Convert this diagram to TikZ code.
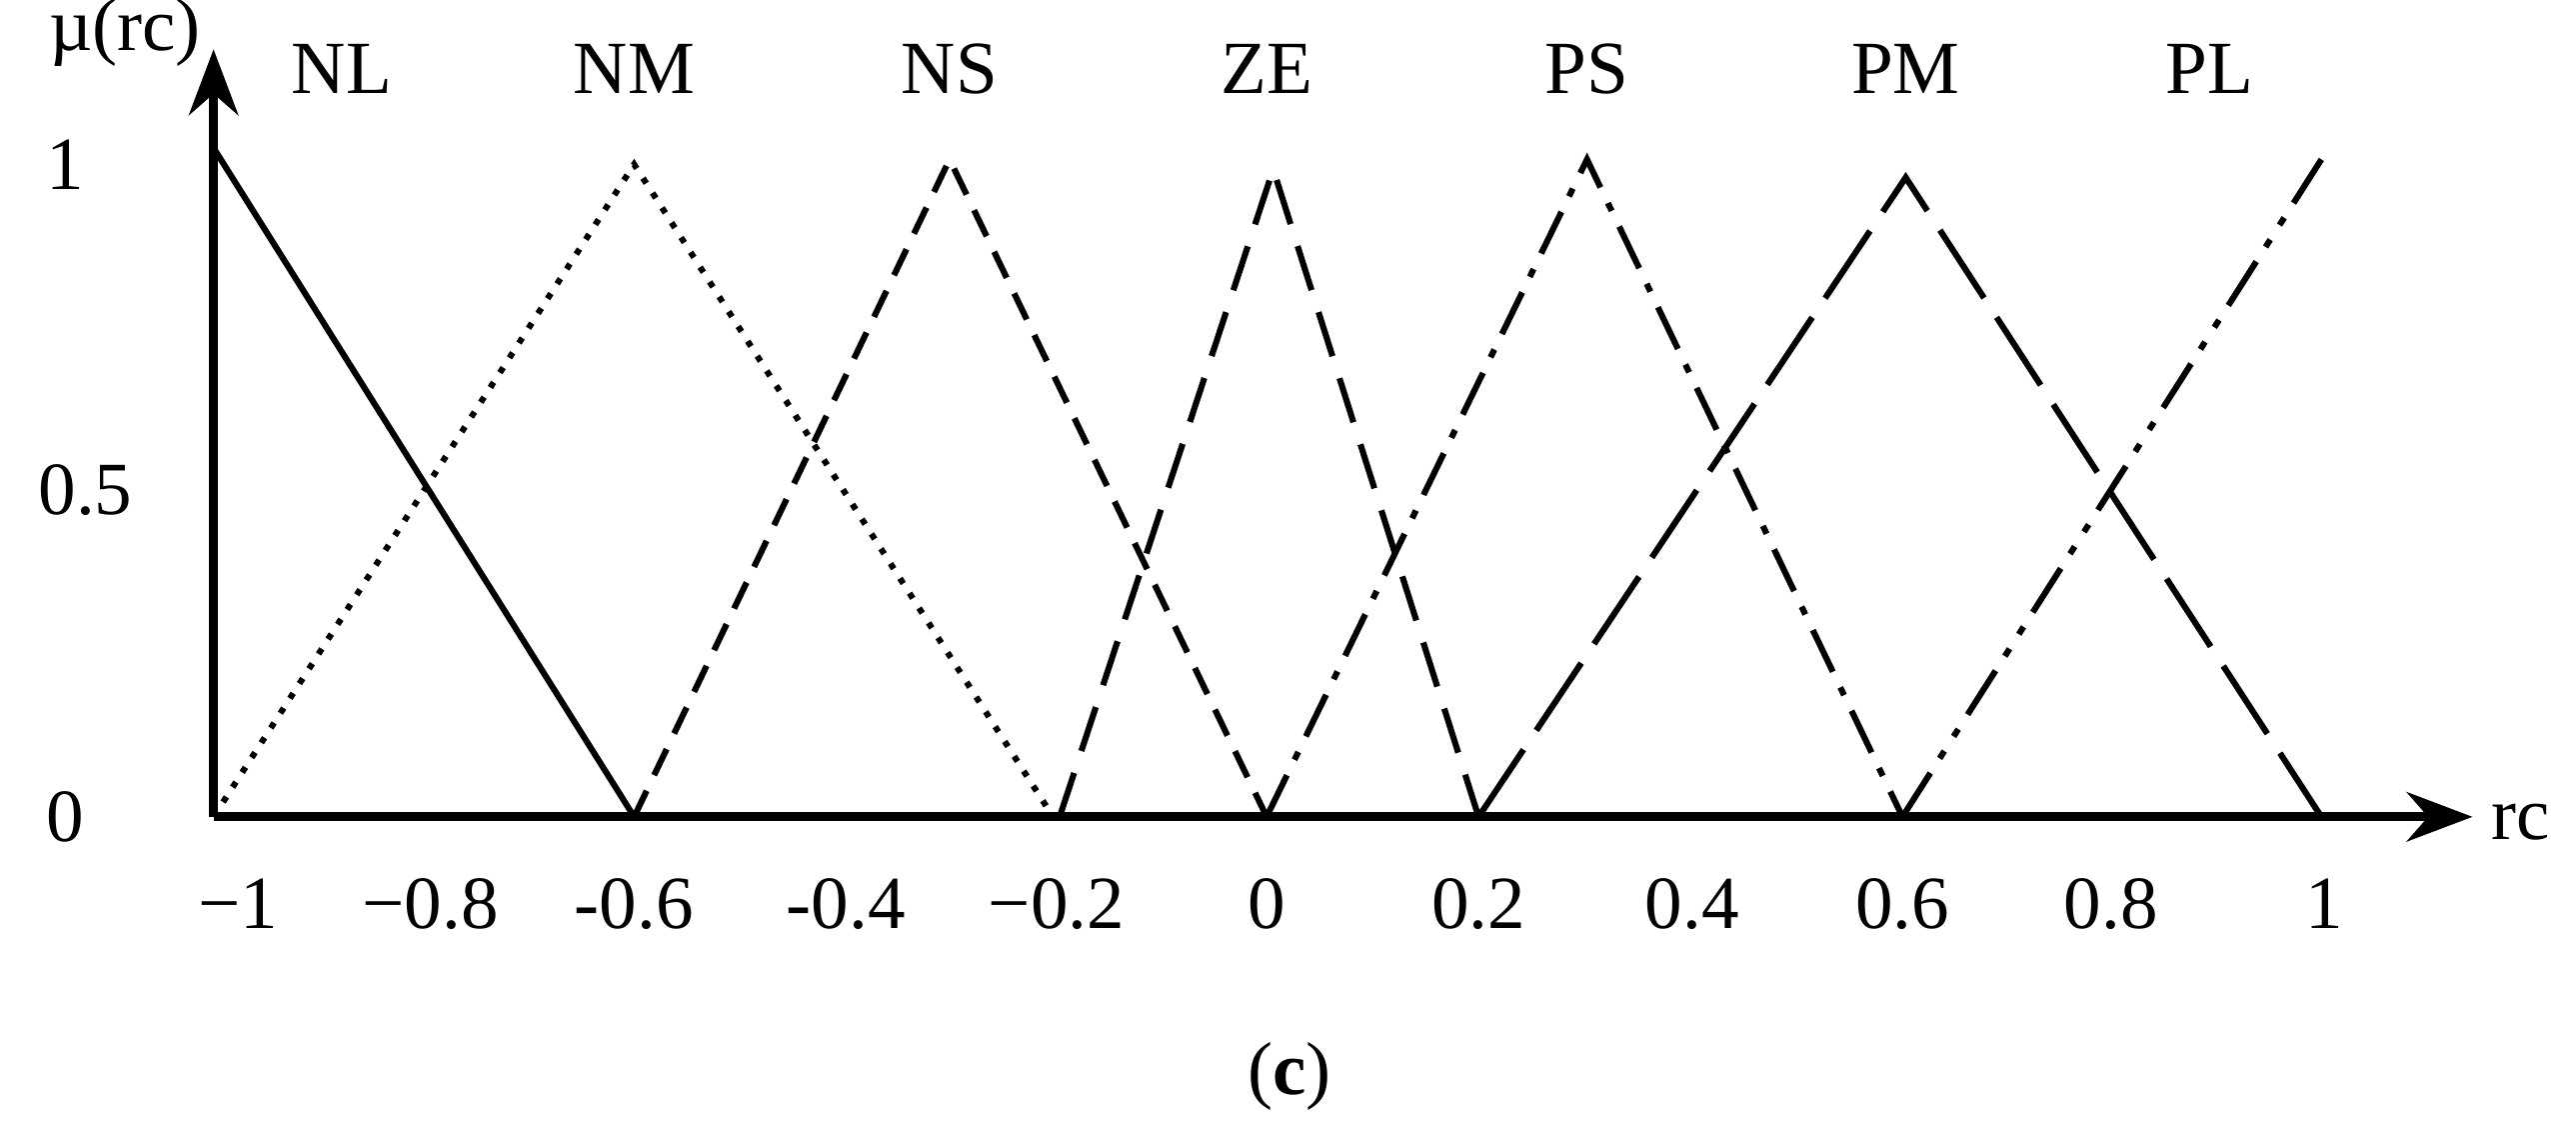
\documentclass[tikz,border=0pt]{standalone}
\usepackage{fontspec}
\setmainfont{Liberation Serif}
\usetikzlibrary{arrows.meta}
\begin{document}
\begin{tikzpicture}[x=0.1mm,y=-0.1mm,
  lbl/.style={font=\fontsize{13pt}{15pt}\selectfont,inner sep=0pt},
  mf/.style={line width=1.05pt},
  ax/.style={line width=1.5pt,-{Stealth[length=4mm,width=3mm]}}]
\useasboundingbox (0,0) rectangle (1568,689);
% axes
\coordinate (O) at (130,497);
\coordinate (Ytop) at (130,30);
\coordinate (Xend) at (1505,497);
\draw[ax] (O) -- (Ytop);
\draw[ax] (O) -- (Xend);
\node[lbl] (mu) at (76,20) {µ(rc)};
\node[lbl,anchor=west] (rc) at (1516,500) {rc};
% y labels
\node[lbl] (y1) at (40,100) {1};
\node[lbl] (y05) at (52,298) {0.5};
\node[lbl] (y0) at (40,497) {0};
% x labels
\foreach \t/\x in {−1/145,−0.8/262,-0.6/386,-0.4/515,−0.2/643,0/771,0.2/900,0.4/1030,0.6/1158,0.8/1285,1/1415}
  \node[lbl] at (\x,550) {\t};
% top labels
\foreach \t/\x in {NL/208,NM/386,NS/578,ZE/771,PS/966,PM/1160,PL/1345}
  \node[lbl] at (\x,42) {\t};
\node[lbl] (cap) at (785,655) {(\textbf{c})};
% coordinates
\coordinate (a0) at (130,497); \coordinate (a1) at (130,90);
\coordinate (b0) at (386,497); \coordinate (b1) at (386,100);
\coordinate (c0) at (641,497); \coordinate (c1) at (578,97);
\coordinate (d0) at (771,497); \coordinate (d1) at (775,103);
\coordinate (e0) at (900,497); \coordinate (e1) at (966,97);
\coordinate (f0) at (1158,497); \coordinate (f1) at (1160,108);
\coordinate (g0) at (1413,497); \coordinate (g1) at (1413,97);
\coordinate (c0b) at (645,497);
% memberships
\draw[mf] (a1) -- (b0);
\draw[mf,dotted] (a0) -- (b1) -- (c0);
\draw[mf,dash pattern=on 5pt off 3pt] (b0) -- (c1) -- (d0);
\draw[mf,dash pattern=on 8pt off 4pt] (c0b) -- (d1) -- (e0);
\draw[mf,dash pattern=on 8pt off 3pt on 1.5pt off 3pt] (d0) -- (e1) -- (f0);
\draw[mf,dash pattern=on 14pt off 4pt] (e0) -- (f1) -- (g0);
\draw[mf,dash pattern=on 9pt off 3pt on 1.5pt off 3pt on 1.5pt off 3pt] (f0) -- (g1);
\end{tikzpicture}
\end{document}
